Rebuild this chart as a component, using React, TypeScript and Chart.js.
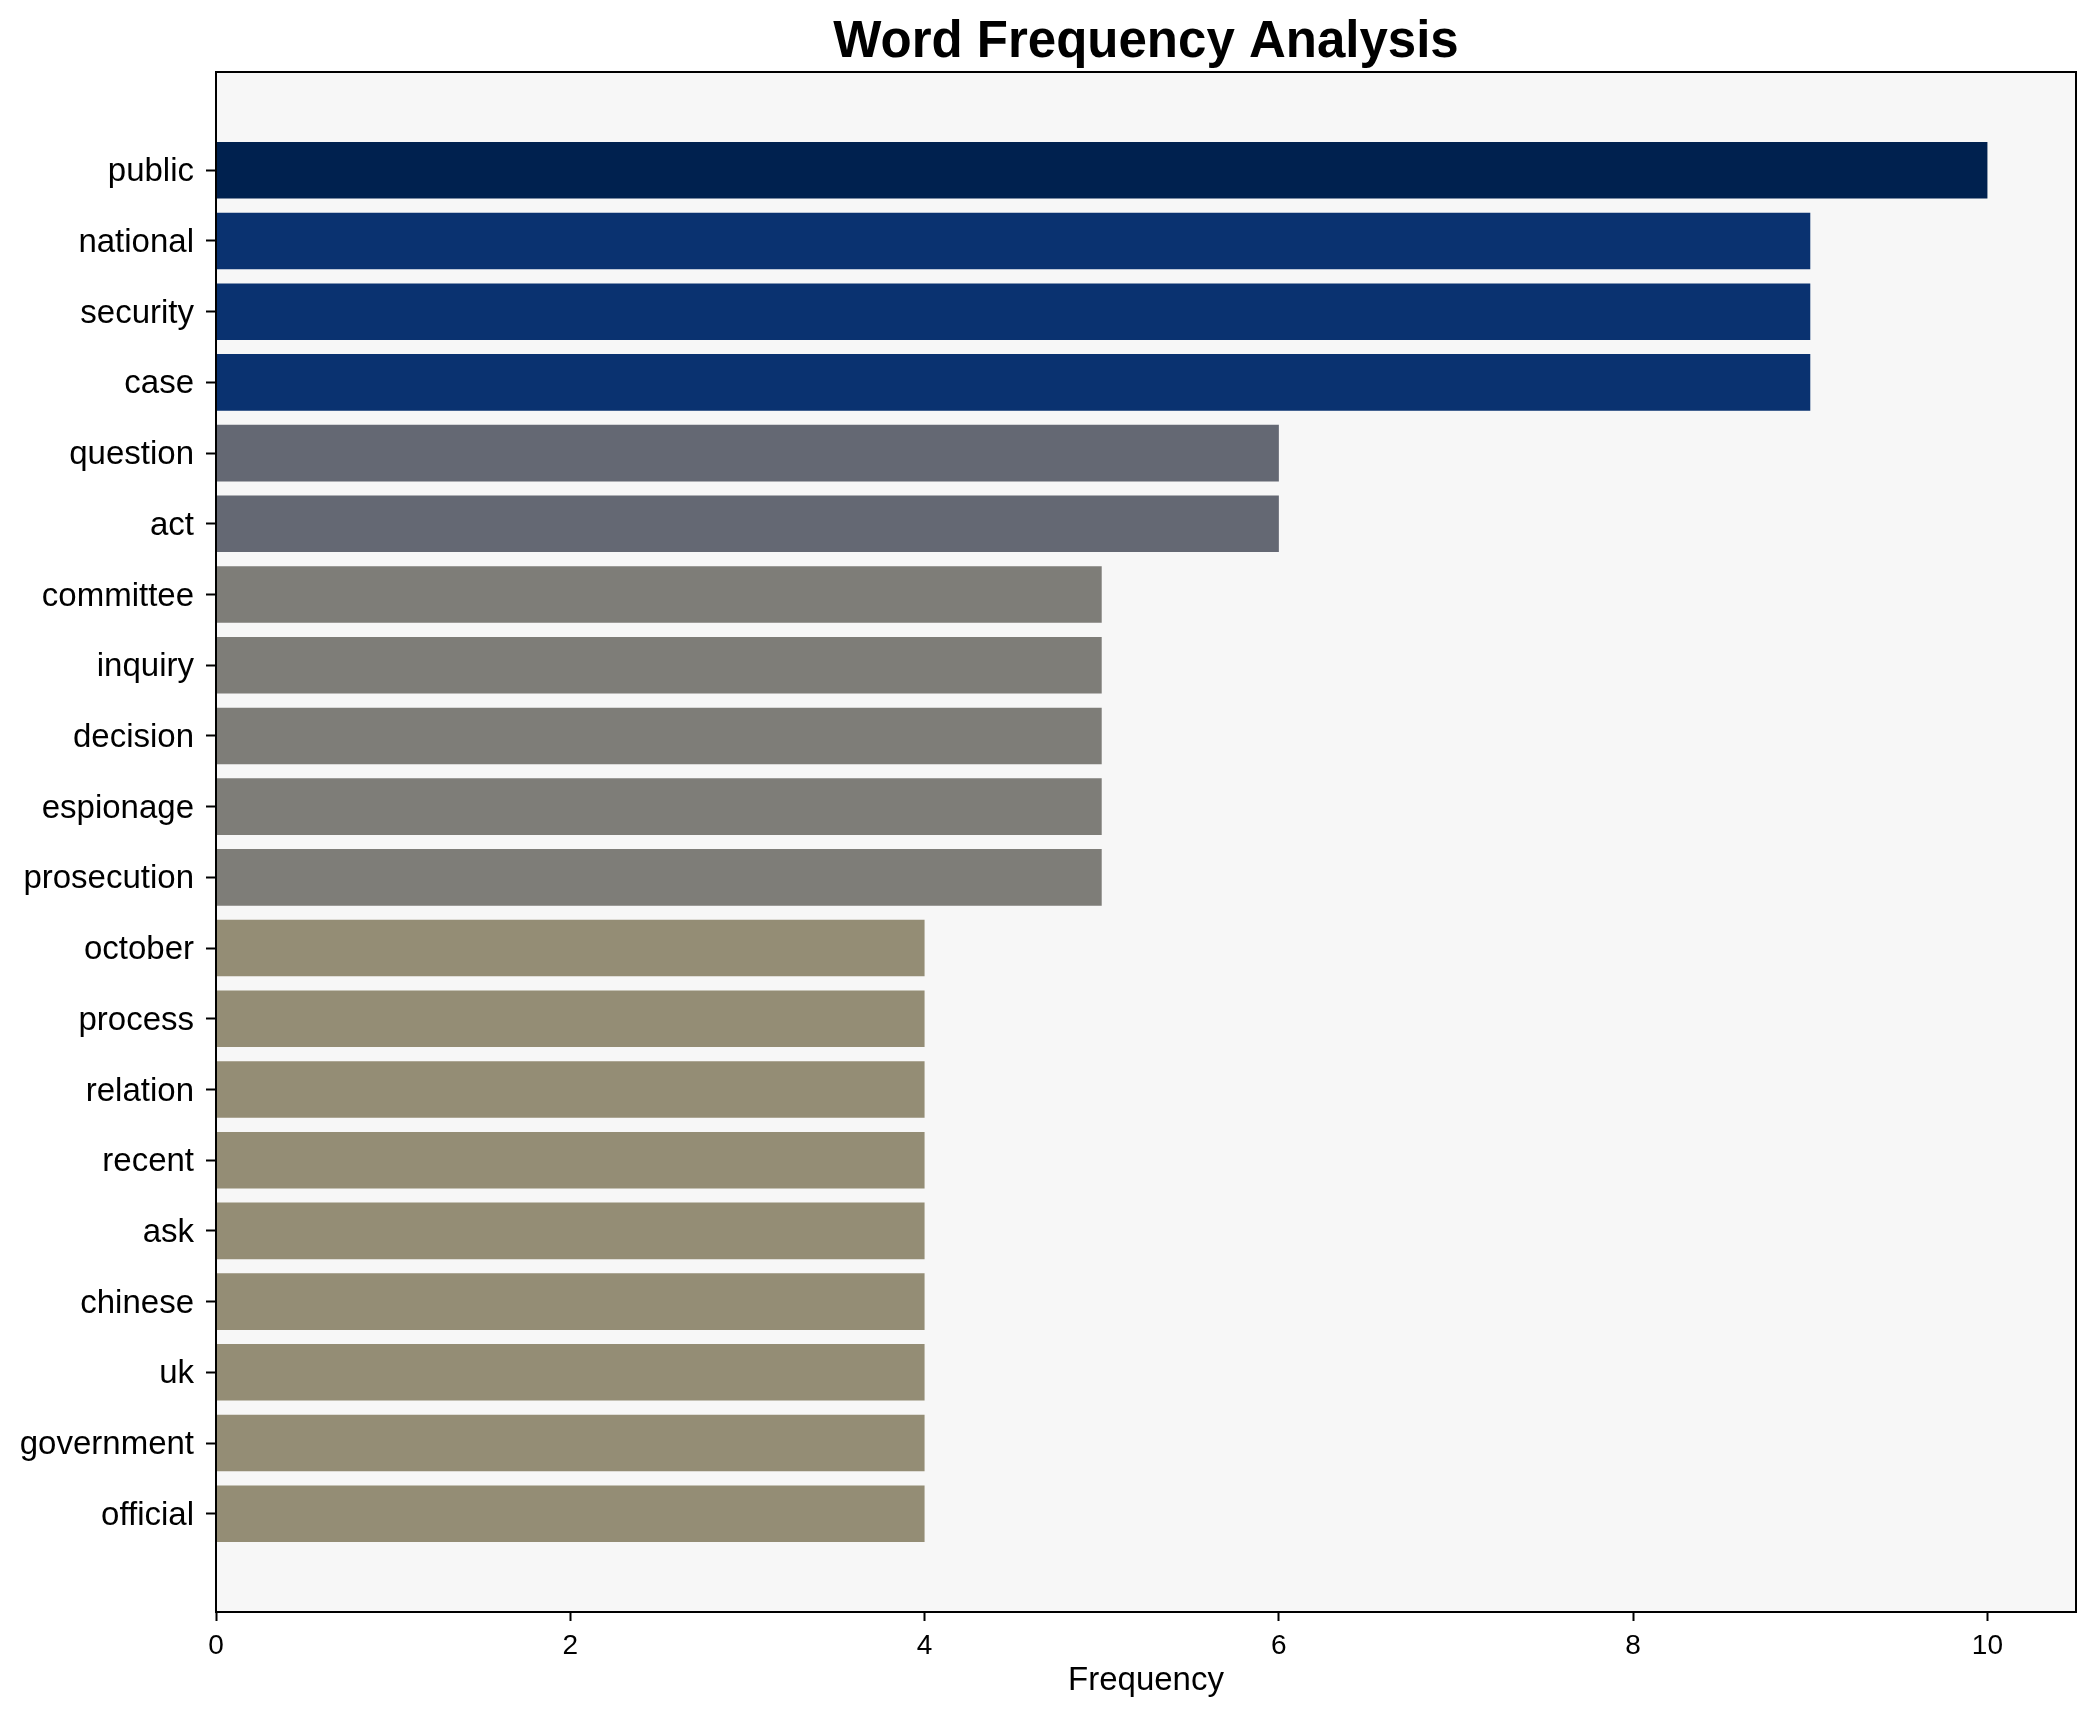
import React, { useEffect, useRef } from "react";
import { Chart, registerables } from "chart.js";

Chart.register(...registerables);

const words = [
  "public", "national", "security", "case", "question", "act", "committee",
  "inquiry", "decision", "espionage", "prosecution", "october", "process",
  "relation", "recent", "ask", "chinese", "uk", "government", "official",
];
const frequencies = [10, 9, 9, 9, 6, 6, 5, 5, 5, 5, 5, 4, 4, 4, 4, 4, 4, 4, 4, 4];
const barColors = [
  "#00214f", "#0a3270", "#0a3270", "#0a3270", "#646873", "#646873",
  "#7e7d78", "#7e7d78", "#7e7d78", "#7e7d78", "#7e7d78",
  "#948d75", "#948d75", "#948d75", "#948d75", "#948d75", "#948d75", "#948d75", "#948d75", "#948d75",
];
const xTicks = [0, 2, 4, 6, 8, 10];
const titleText = "Word Frequency Analysis";

const FONT = "'Liberation Sans', Arial, sans-serif";

const framePlugin = {
  id: "frame",
  beforeDraw(chart: any) {
    const { ctx, chartArea } = chart;
    ctx.save();
    ctx.fillStyle = "#f7f7f7";
    ctx.fillRect(chartArea.left, chartArea.top, chartArea.right - chartArea.left, chartArea.bottom - chartArea.top);
    ctx.restore();
  },
  afterDraw(chart: any) {
    const { ctx, chartArea } = chart;
    ctx.save();
    ctx.strokeStyle = "#000";
    ctx.lineWidth = 2;
    ctx.strokeRect(chartArea.left, chartArea.top, chartArea.right - chartArea.left, chartArea.bottom - chartArea.top);
    ctx.fillStyle = "#000";
    ctx.font = `bold 51px ${FONT}`;
    ctx.textAlign = "center";
    ctx.textBaseline = "alphabetic";
    ctx.fillText(titleText, (chartArea.left + chartArea.right) / 2, 57);
    ctx.restore();
  },
};

export default function App() {
  const ref = useRef<HTMLCanvasElement | null>(null);
  useEffect(() => {
    document.body.style.margin = "0";
    const canvas = ref.current!;
    const chart = new Chart(canvas, {
      type: "bar",
      data: {
        datasets: [
          {
            data: frequencies.map((v, i) => ({ x: v, y: i })) as any,
            backgroundColor: barColors,
            borderWidth: 0,
            categoryPercentage: 1,
            barPercentage: 0.8,
          },
        ],
      },
      plugins: [framePlugin],
      options: {
        indexAxis: "y",
        animation: false,
        responsive: false,
        devicePixelRatio: 1,
        layout: { padding: { left: 0, right: 19, top: 72, bottom: 0 } },
        plugins: {
          legend: { display: false },
          tooltip: { enabled: false },
          title: { display: false },
        },
        scales: {
          x: {
            type: "linear",
            min: 0,
            max: 10.5,
            afterBuildTicks: (scale: any) => {
              scale.ticks = xTicks.map((v) => ({ value: v }));
            },
            afterFit: (scale: any) => {
              scale.height = 110;
            },
            grid: {
              display: true,
              drawOnChartArea: false,
              drawTicks: true,
              tickLength: 9,
              tickColor: "#000",
              tickWidth: 2,
            },
            border: { display: false },
            ticks: {
              color: "#000",
              padding: 8,
              font: { family: FONT, size: 28 },
              callback: (v: any) => String(v),
            },
            title: {
              display: true,
              text: "Frequency",
              color: "#000",
              font: { family: FONT, size: 33 },
              padding: { top: 0, bottom: 21 },
            },
          },
          y: {
            type: "linear",
            min: -1.39,
            max: 20.39,
            reverse: true,
            offset: false,
            afterBuildTicks: (scale: any) => {
              scale.ticks = words.map((_, i) => ({ value: i }));
            },
            afterFit: (scale: any) => {
              scale.width = 216;
            },
            grid: {
              display: true,
              offset: false,
              drawOnChartArea: false,
              drawTicks: true,
              tickLength: 10,
              tickColor: "#000",
              tickWidth: 2,
            },
            border: { display: false },
            ticks: {
              autoSkip: false,
              color: "#000",
              padding: 12,
              labelOffset: 2,
              font: { family: FONT, size: 33 },
              callback: (v: any) => words[v as number] ?? "",
            },
          },
        },
      },
    });
    return () => chart.destroy();
  }, []);
  return (
    <div style={{ width: 2095, height: 1722 }}>
      <canvas ref={ref} width={2095} height={1722} style={{ display: "block" }} />
    </div>
  );
}
